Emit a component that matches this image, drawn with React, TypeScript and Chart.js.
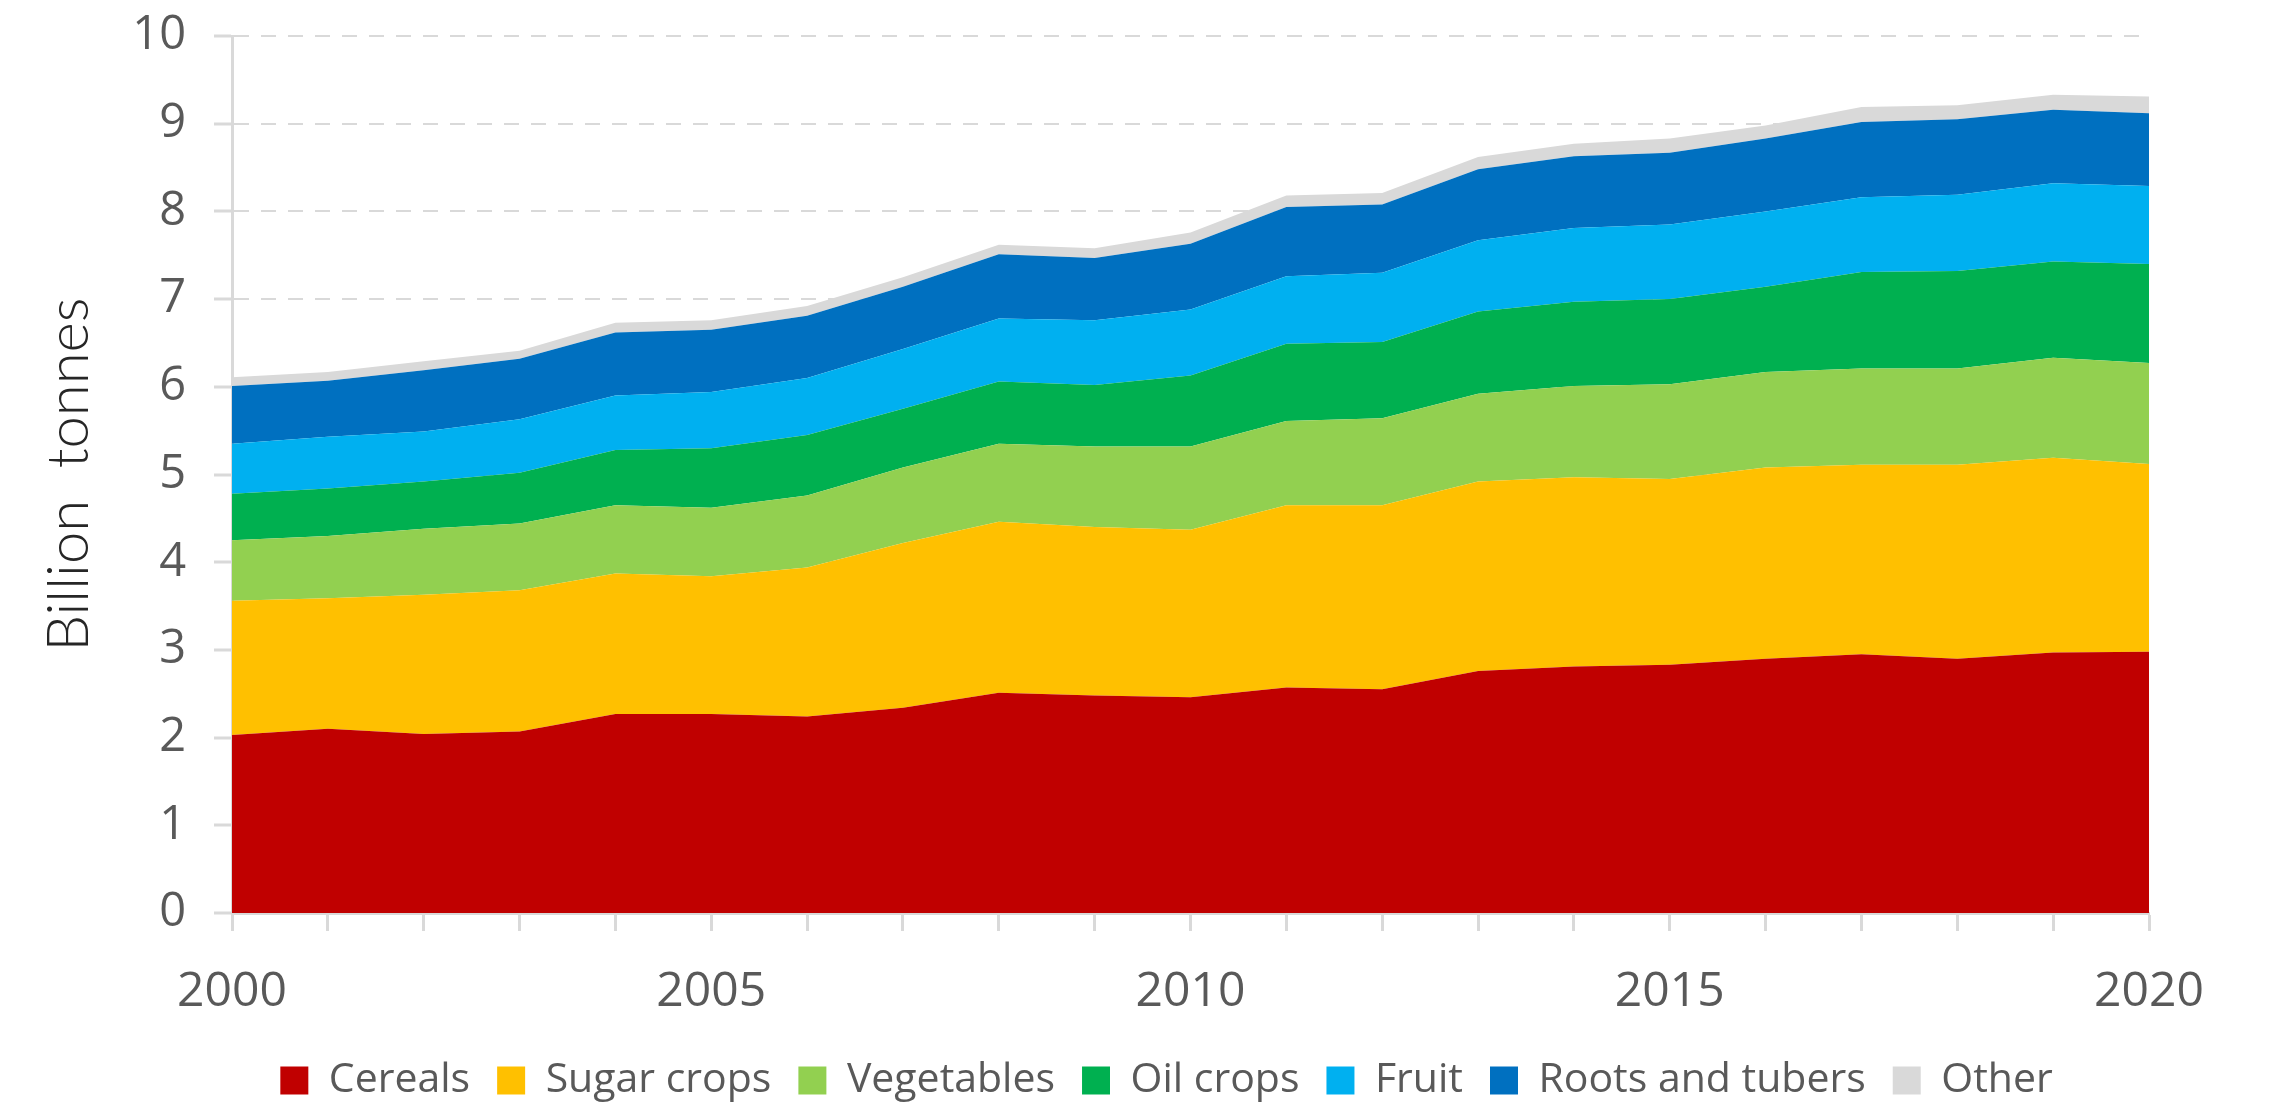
import React, { useEffect, useRef } from 'react';
import { Chart, registerables } from 'chart.js';

Chart.register(...registerables);

const years = ['2000', '2001', '2002', '2003', '2004', '2005', '2006', '2007', '2008', '2009', '2010',
  '2011', '2012', '2013', '2014', '2015', '2016', '2017', '2018', '2019', '2020'];

// Billion tonnes per crop group (stacked)
const cereals = [2.03, 2.10, 2.04, 2.07, 2.27, 2.27, 2.24, 2.34, 2.51, 2.48, 2.46, 2.57, 2.55, 2.76, 2.81, 2.83, 2.90, 2.95, 2.90, 2.97, 2.98];
const sugarCrops = [1.53, 1.49, 1.59, 1.61, 1.60, 1.57, 1.70, 1.88, 1.95, 1.92, 1.91, 2.08, 2.10, 2.16, 2.16, 2.12, 2.18, 2.16, 2.21, 2.22, 2.14];
const vegetables = [0.69, 0.71, 0.75, 0.76, 0.78, 0.78, 0.82, 0.86, 0.89, 0.92, 0.95, 0.96, 0.99, 1.00, 1.04, 1.08, 1.09, 1.10, 1.10, 1.14, 1.15];
const oilCrops = [0.53, 0.54, 0.54, 0.58, 0.63, 0.68, 0.69, 0.67, 0.71, 0.70, 0.81, 0.88, 0.87, 0.94, 0.96, 0.97, 0.97, 1.10, 1.11, 1.10, 1.13];
const fruit = [0.57, 0.59, 0.57, 0.61, 0.62, 0.64, 0.65, 0.68, 0.72, 0.74, 0.75, 0.77, 0.79, 0.81, 0.84, 0.85, 0.86, 0.85, 0.87, 0.89, 0.89];
const rootsAndTubers = [0.66, 0.64, 0.70, 0.69, 0.72, 0.71, 0.71, 0.71, 0.73, 0.71, 0.75, 0.79, 0.78, 0.81, 0.82, 0.82, 0.83, 0.86, 0.86, 0.84, 0.83];
const other = [0.10, 0.10, 0.10, 0.09, 0.11, 0.11, 0.11, 0.11, 0.11, 0.11, 0.13, 0.13, 0.13, 0.14, 0.14, 0.16, 0.15, 0.17, 0.16, 0.17, 0.19];

const seriesNames = ['Cereals', 'Sugar crops', 'Vegetables', 'Oil crops', 'Fruit', 'Roots and tubers', 'Other'];
const seriesValues = [cereals, sugarCrops, vegetables, oilCrops, fruit, rootsAndTubers, other];
const seriesColors = ['#C00000', '#FFC000', '#92D050', '#00B050', '#00B0F0', '#0070C0', '#D9D9D9'];

const yTitle = 'Billion  tonnes';

const legendShift = {
  id: 'legendShift',
  afterLayout(chart: any) {
    const l = chart.legend;
    if (l) {
      l.left -= 24;
      l.right -= 24;
    }
  },
};

export default function App() {
  const ref = useRef<HTMLCanvasElement>(null);

  useEffect(() => {
    document.body.style.margin = '0';
    const canvas = ref.current;
    if (!canvas) return;
    const chart = new Chart(canvas, {
      type: 'line',
      data: {
        labels: years,
        datasets: seriesValues.map((vals, i) => ({
          label: seriesNames[i],
          data: vals,
          backgroundColor: seriesColors[i],
          borderColor: seriesColors[i],
          borderWidth: 0,
          pointRadius: 0,
          pointHoverRadius: 0,
          tension: 0,
          fill: i === 0 ? 'origin' : '-1',
        })),
      },
      options: {
        responsive: false,
        animation: false,
        devicePixelRatio: 1,
        layout: { padding: { left: 0, right: 126, top: 36, bottom: -9 } },
        plugins: {
          legend: {
            position: 'bottom',
            fullSize: false,
            labels: {
              boxWidth: 28,
              boxHeight: 28,
              padding: 27,
              color: '#595959',
              font: { family: 'Open Sans', size: 41 },
            },
          },
          tooltip: { enabled: false },
        },
        scales: {
          x: {
            type: 'category',
            offset: false,
            grid: {
              display: true,
              drawOnChartArea: false,
              drawTicks: true,
              tickLength: 18,
              tickColor: '#d9d9d9',
              tickWidth: 3,
            },
            border: { display: true, color: '#d9d9d9', width: 3 },
            ticks: {
              autoSkip: false,
              maxRotation: 0,
              minRotation: 0,
              padding: 33,
              color: '#595959',
              font: { family: 'Open Sans', size: 48 },
              callback: (_v: any, i: number) => (Number(years[i]) % 5 === 0 ? years[i] : ''),
            },
            afterFit: (s: any) => {
              s.height = 120;
            },
          },
          y: {
            stacked: true,
            min: 0,
            max: 10,
            ticks: {
              stepSize: 1,
              padding: 28,
              color: '#595959',
              font: { family: 'Open Sans', size: 47, lineHeight: 0.2 },
            },
            grid: {
              color: '#d9d9d9',
              lineWidth: 2,
              tickLength: 18,
              tickColor: '#d9d9d9',
              tickWidth: 3,
            },
            border: { display: true, color: '#d9d9d9', width: 3, dash: [15, 12] },
            title: {
              display: true,
              text: yTitle,
              color: '#262626',
              font: { family: 'Lato', size: 58, weight: 300 },
              padding: { top: 34, bottom: 0 },
            },
            afterFit: (s: any) => {
              s.width = 232;
            },
          },
        },
      },
      plugins: [legendShift],
    } as any);
    return () => chart.destroy();
  }, []);

  return (
    <div style={{ width: 2275, height: 1102 }}>
      <canvas ref={ref} width={2275} height={1102} style={{ display: 'block' }} />
    </div>
  );
}
